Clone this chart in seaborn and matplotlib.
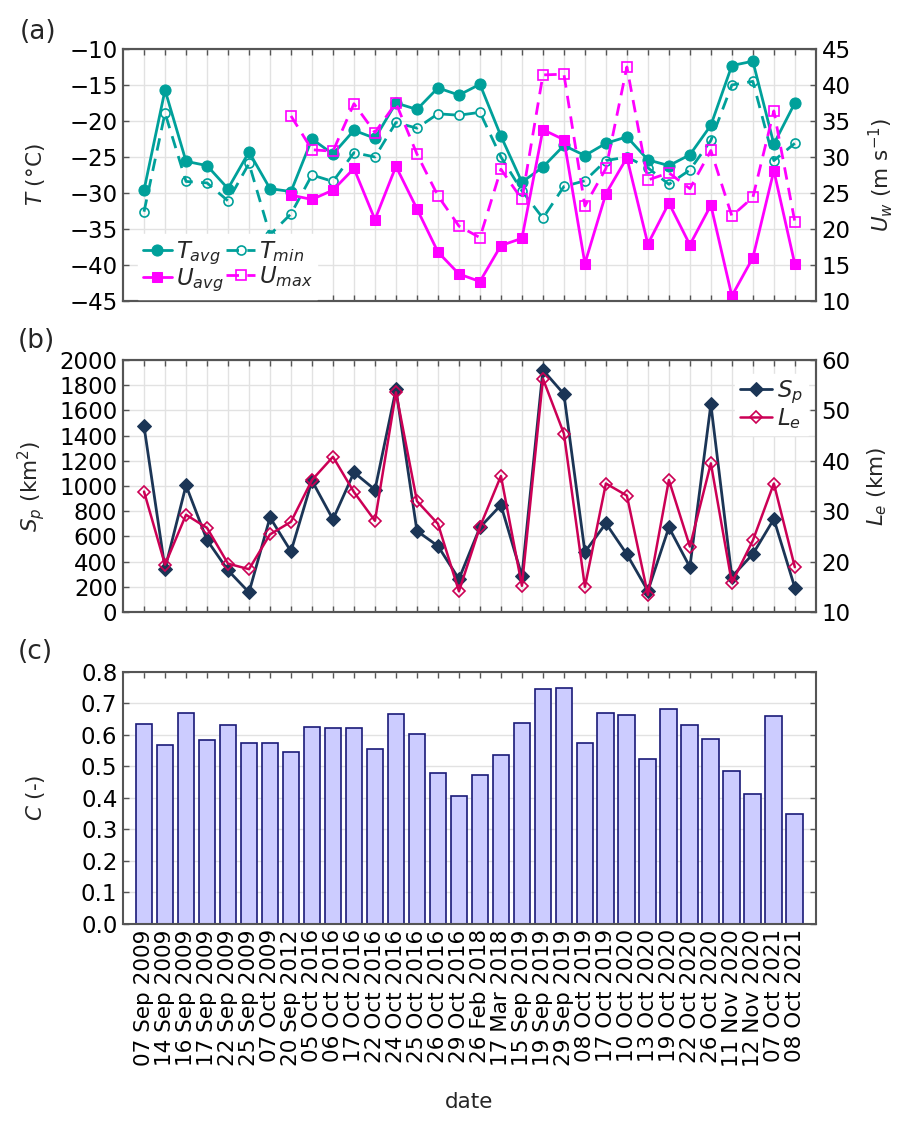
import numpy as np
import matplotlib
matplotlib.use("Agg")
import matplotlib.pyplot as plt
import seaborn as sns

# ---------------- data ----------------
dates = ["07 Sep 2009", "14 Sep 2009", "16 Sep 2009", "17 Sep 2009", "22 Sep 2009",
         "25 Sep 2009", "07 Oct 2009", "20 Sep 2012", "05 Oct 2016", "06 Oct 2016",
         "17 Oct 2016", "22 Oct 2016", "24 Oct 2016", "25 Oct 2016", "26 Oct 2016",
         "29 Oct 2016", "26 Feb 2018", "17 Mar 2018", "15 Sep 2019", "19 Sep 2019",
         "29 Sep 2019", "08 Oct 2019", "17 Oct 2019", "10 Oct 2020", "13 Oct 2020",
         "19 Oct 2020", "22 Oct 2020", "26 Oct 2020", "11 Nov 2020", "12 Nov 2020",
         "07 Oct 2021", "08 Oct 2021"]

T_avg = [-29.6, -15.7, -25.6, -26.2, -29.4, -24.3, -29.4, -29.8, -22.5, -24.6,
         -21.3, -22.4, -17.5, -18.4, -15.4, -16.4, -14.9, -22.1, -28.5, -26.4,
         -23.4, -24.8, -23.1, -22.2, -25.4, -26.2, -24.7, -20.6, -12.3, -11.7,
         -23.2, -17.5]
T_min = [-32.6, -18.9, -28.4, -28.6, -31.1, -25.9, -35.8, -32.9, -27.5, -28.4,
         -24.4, -25.0, -20.2, -21.0, -19.0, -19.2, -18.8, -25.0, -29.7, -33.5,
         -29.1, -28.3, -25.5, -25.0, -26.5, -28.8, -26.8, -22.7, -15.0, -14.5,
         -25.5, -23.1]
nan = np.nan
U_avg = [nan, nan, nan, nan, nan, nan, nan, 24.7, 24.1, 25.4,
         28.4, 21.3, 28.7, 22.8, 16.8, 13.75, 12.7, 17.7, 18.7, 33.8,
         32.4, 15.2, 24.9, 29.9, 17.9, 23.6, 17.8, 23.3, 10.7, 16.0,
         28.1, 15.1]
U_max = [nan, nan, nan, nan, nan, nan, nan, 35.7, 31.0, 30.8,
         37.4, 33.4, 37.5, 30.4, 24.6, 20.4, 18.8, 28.3, 24.1, 41.4,
         41.5, 23.2, 28.4, 42.5, 26.8, 27.8, 25.6, 30.9, 21.8, 24.4,
         36.4, 21.0]
S_p = [1474, 344, 1005, 571, 331, 156, 751, 481, 1042, 735,
       1108, 971, 1767, 643, 524, 262, 672, 849, 286, 1921,
       1730, 476, 704, 458, 167, 672, 357, 1648, 280, 460,
       738, 193]
L_e = [33.9, 19.4, 29.3, 26.7, 19.6, 18.5, 25.4, 27.9, 36.2, 40.8,
       33.8, 28.1, 53.6, 32.0, 27.5, 14.1, 26.9, 37.0, 15.2, 56.3,
       45.4, 15.0, 35.5, 33.1, 13.4, 36.2, 23.0, 39.5, 15.8, 24.2,
       35.5, 18.9]
C = [0.633, 0.567, 0.668, 0.583, 0.630, 0.573, 0.574, 0.546, 0.626, 0.620,
     0.620, 0.556, 0.665, 0.602, 0.478, 0.406, 0.471, 0.537, 0.636, 0.744,
     0.748, 0.573, 0.669, 0.664, 0.522, 0.683, 0.632, 0.586, 0.484, 0.413,
     0.659, 0.347]

# ---------------- style ----------------
sns.set_theme(style="white")
YFS = 16.5   # y tick labels
XFS = 15.5   # date tick labels
LFS = 15.5   # axis labels
plt.rcParams.update({
    "font.family": ["DejaVu Sans"],
    "mathtext.fontset": "dejavusans",
    "font.size": LFS,
    "ytick.labelsize": YFS,
    "xtick.labelsize": XFS,
    "axes.labelsize": LFS,
    "legend.fontsize": 16.5,
})

teal = "#00A09A"
mag = "#FF00FF"
navy = "#1B3556"
crim = "#CC0055"
spine_c = "#555555"
grid_c = "#E2E2E2"
PAD = 4

x = np.arange(len(dates))

fig = plt.figure(figsize=(9.08, 11.34), dpi=100)
L, W, H = 0.1355, 0.763, 0.2222
ax_a = fig.add_axes([L, 0.7346, W, H])
ax_b = fig.add_axes([L, 0.4603, W, H])
ax_c = fig.add_axes([L, 0.1854, W, H])


def style_ax(ax, right_ticks=False):
    for s in ax.spines.values():
        s.set_color(spine_c)
        s.set_linewidth(1.5)
        s.set_visible(True)
    ax.tick_params(axis="both", direction="in", length=4, width=1,
                   color=spine_c, labelcolor="black", pad=PAD)
    ax.tick_params(axis="y", labelsize=YFS, left=True, right=right_ticks)
    ax.tick_params(axis="x", labelsize=XFS, top=True, bottom=True)
    ax.grid(True, color=grid_c, linewidth=1)
    ax.set_axisbelow(True)


def style_twin(ax2):
    ax2.grid(False)
    for s in ax2.spines.values():
        s.set_color(spine_c)
        s.set_linewidth(1.5)
    ax2.tick_params(axis="y", direction="in", length=4, width=1, color=spine_c,
                    labelsize=YFS, labelcolor="black", pad=PAD, right=True)


# ---------------- panel (a) ----------------
style_ax(ax_a)
sns.lineplot(x=x, y=T_avg, ax=ax_a, color=teal, linewidth=2, marker="o",
             markersize=8, markeredgecolor=teal, markerfacecolor=teal,
             label=r"$T_{avg}$", legend=False)
sns.lineplot(x=x, y=T_min, ax=ax_a, color=teal, linewidth=2, linestyle=(0, (4.5, 3)),
             marker="o", markersize=6.5, markeredgecolor=teal,
             markerfacecolor="none", markeredgewidth=1.2,
             label=r"$T_{min}$", legend=False)
ax_a.set_xlim(-1, 32)
ax_a.set_ylim(-45, -10)
ax_a.set_yticks(np.arange(-45, -9, 5))
ax_a.set_xticks(x)
ax_a.set_xticklabels([])
ax_a.set_xlabel("")
ax_a.set_ylabel(r"$T$ (°C)", fontsize=LFS)
ax_a.yaxis.set_label_coords(-0.11, 0.5)

ax_a2 = ax_a.twinx()
style_twin(ax_a2)
ua = np.array(U_avg)
um = np.array(U_max)
mask = ~np.isnan(ua)
sns.lineplot(x=x[mask], y=ua[mask], ax=ax_a2, color=mag, linewidth=2, marker="s",
             markersize=7.5, markeredgecolor=mag, markerfacecolor=mag,
             label=r"$U_{avg}$", legend=False)
sns.lineplot(x=x[mask], y=um[mask], ax=ax_a2, color=mag, linewidth=2,
             linestyle=(0, (4.5, 3)), marker="s", markersize=7,
             markeredgecolor=mag, markerfacecolor="none", markeredgewidth=1.2,
             label=r"$U_{max}$", legend=False)
ax_a2.set_ylim(10, 45)
ax_a2.set_yticks(np.arange(10, 46, 5))
ax_a2.set_xlim(-1, 32)
ax_a2.set_ylabel(r"$U_w$ (m s$^{-1}$)", fontsize=LFS)
ax_a2.yaxis.set_label_coords(1.072, 0.5)

h1, l1 = ax_a.get_legend_handles_labels()
h2, l2 = ax_a2.get_legend_handles_labels()
ax_a2.legend([h1[0], h2[0], h1[1], h2[1]], [l1[0], l2[0], l1[1], l2[1]],
             ncol=2, loc="lower left", bbox_to_anchor=(0.015, -0.01),
             fontsize=16.5, frameon=True, framealpha=1, edgecolor="white",
             facecolor="white", fancybox=False, handlelength=1.3,
             handletextpad=0.15, columnspacing=0.1, labelspacing=0.0,
             borderpad=0.2, borderaxespad=0.2)

# ---------------- panel (b) ----------------
style_ax(ax_b)
sns.lineplot(x=x, y=S_p, ax=ax_b, color=navy, linewidth=2, marker="D",
             markersize=7, markeredgecolor=navy, markerfacecolor=navy,
             label=r"$S_p$", legend=False)
ax_b.set_xlim(-1, 32)
ax_b.set_ylim(0, 2000)
ax_b.set_yticks(np.arange(0, 2001, 200))
ax_b.set_xticks(x)
ax_b.set_xticklabels([])
ax_b.set_xlabel("")
ax_b.set_ylabel(r"$S_p$ (km$^2$)", fontsize=LFS)
ax_b.yaxis.set_label_coords(-0.11, 0.5)

ax_b2 = ax_b.twinx()
style_twin(ax_b2)
sns.lineplot(x=x, y=L_e, ax=ax_b2, color=crim, linewidth=1.8, marker="D",
             markersize=6, markeredgecolor=crim, markerfacecolor="none",
             markeredgewidth=1.2, label=r"$L_e$", legend=False)
ax_b2.set_ylim(10, 60)
ax_b2.set_yticks(np.arange(10, 61, 10))
ax_b2.set_xlim(-1, 32)
ax_b2.set_ylabel(r"$L_e$ (km)", fontsize=LFS)
ax_b2.yaxis.set_label_coords(1.072, 0.5)

h1, l1 = ax_b.get_legend_handles_labels()
h2, l2 = ax_b2.get_legend_handles_labels()
ax_b2.legend(h1 + h2, l1 + l2, loc="upper right", bbox_to_anchor=(1.005, 0.99),
             fontsize=16.5, frameon=True, framealpha=1, edgecolor="white",
             facecolor="white", fancybox=False, handlelength=1.4,
             handletextpad=0.25, labelspacing=0.0, borderpad=0.2)

# ---------------- panel (c) ----------------
style_ax(ax_c, right_ticks=True)
sns.barplot(x=dates, y=C, ax=ax_c, color="#CCCCFF", saturation=1,
            edgecolor="#1A1A78", linewidth=1.2, width=0.8, order=dates)
ax_c.set_xlim(-1, 32)
ax_c.set_ylim(0, 0.8)
ax_c.set_yticks(np.arange(0, 0.81, 0.1))
ax_c.set_yticklabels([f"{v:.1f}" for v in np.arange(0, 0.81, 0.1)], fontsize=YFS)
ax_c.set_xticks(x)
ax_c.set_xticklabels(dates, rotation=90, fontsize=XFS)
ax_c.set_xlabel("date", fontsize=LFS, labelpad=18)
ax_c.set_ylabel(r"$C$ (-)", fontsize=LFS)
ax_c.yaxis.set_label_coords(-0.11, 0.5)

# panel labels
fig.text(0.022, 0.972, "(a)", fontsize=19, va="center", ha="left")
fig.text(0.020, 0.699, "(b)", fontsize=19, va="center", ha="left")
fig.text(0.020, 0.425, "(c)", fontsize=19, va="center", ha="left")

fig.savefig("out.png", dpi=100)
